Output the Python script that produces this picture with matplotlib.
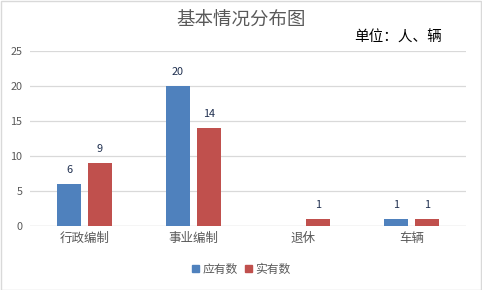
import matplotlib
matplotlib.use("Agg")
import matplotlib.pyplot as plt
import numpy as np
from matplotlib.patches import Rectangle

plt.rcParams['font.family'] = ['Noto Sans CJK SC', 'DejaVu Sans']

categories = ['行政编制', '事业编制', '退休', '车辆']
series_names = ['应有数', '实有数']
planned = [6, 20, 0, 1]
actual = [9, 14, 1, 1]
colors = ['#4F81BD', '#C0504D']

W, H = 482, 290
fig = plt.figure(figsize=(W / 100, H / 100), dpi=100)
ax = fig.add_axes([30 / W, 1 - 226 / H, 436 / W, (226 - 51) / H])

x = np.arange(len(categories))
bw = 0.22
off = 0.142
for vals, o, c in [(planned, -off, colors[0]), (actual, off, colors[1])]:
    for xi, v in zip(x, vals):
        if v == 0:
            continue
        ax.bar(xi + o, v, width=bw, color=c, zorder=3)
        ax.text(xi + o, v + 1.3, str(v), ha='center', va='bottom',
                fontsize=7.8, color='#1F2F4F', zorder=4)

ax.set_xlim(-0.5, len(categories) - 0.5)
ax.set_ylim(0, 25)
ax.set_yticks([0, 5, 10, 15, 20, 25])
ax.set_xticks(x)
ax.set_xticklabels(categories, fontsize=9, color='#595959')
ax.tick_params(axis='y', labelsize=7.8, colors='#595959', length=0, pad=5.5)
ax.tick_params(axis='x', length=0, pad=4)
ax.grid(axis='y', color='#D9D9D9', linewidth=0.9, zorder=0)
for s in ax.spines.values():
    s.set_visible(False)
ax.axhline(0, color='#D9D9D9', linewidth=0.9, zorder=2)

fig.text(241 / W, 1 - 21 / H, '基本情况分布图', ha='center', va='center',
         fontsize=13.3, color='#595959')
fig.text(354 / W, 1 - 38 / H, '单位：人、辆', ha='left', va='center',
         fontsize=10.5, color='#000000')

# legend
handles = [Rectangle((0, 0), 1, 1, color=c) for c in colors]
fig.legend(handles, series_names, loc='center', bbox_to_anchor=(241 / W, 1 - 269 / H),
           ncol=2, frameon=False, fontsize=8.5, handlelength=0.6, handleheight=0.6,
           handletextpad=0.3, columnspacing=0.6, labelcolor='#595959')

# border
fig.add_artist(Rectangle((0.5 / W, 0.5 / H), 1 - 1.5 / W, 1 - 1.5 / H,
                         transform=fig.transFigure, fill=False,
                         edgecolor='#D9D9D9', linewidth=1))

fig.savefig('out.png', dpi=100, facecolor='white')
